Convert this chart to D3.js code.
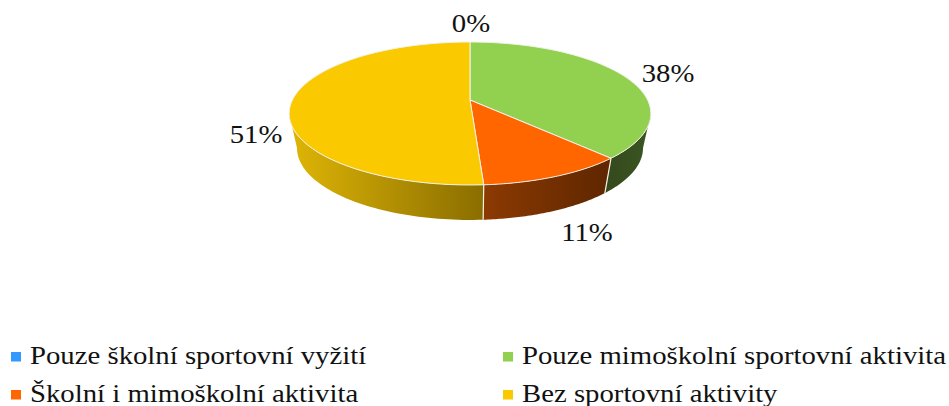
<!DOCTYPE html>
<html>
<head>
<meta charset="utf-8">
<script src="https://cdn.jsdelivr.net/npm/d3@7"></script>
<style>
  html, body { margin: 0; padding: 0; background: #fff; }
  text { font-family: "Liberation Serif", serif; fill: #111; }
</style>
</head>
<body>
<div id="chart"></div>
<script>
var categories = ['Pouze školní sportovní vyžití', 'Pouze mimoškolní sportovní aktivita', 'Školní i mimoškolní aktivita', 'Bez sportovní aktivity'];
var values = [0, 38, 11, 51];
var labels = ['0%', '38%', '11%', '51%'];
var colors = ['#3399ff', '#92d050', '#ff6600', '#fbc900'];

var width = 949,
  height = 406;

var svg = d3.select('#chart')
  .append('svg')
  .attr('width', width)
  .attr('height', height)
  .style('display', 'block');

// perspective of the tilted disc: k pulls the near edge down and makes it wider
var k = 0.1888;
var topFace = { x: 470, y: 100, rx: 177.6, ry: 68.95 };
var bottomFace = { x: 470, y: 134.4, rx: 169.9, ry: 69.4 };

function project(face, a) {
  var u = Math.sin(a), v = -Math.cos(a), w = 1 - k * v;
  return [face.x + face.rx * u / w, face.y + face.ry * v / w];
}

function sample(face, a0, a1) {
  return d3.range(0, 61).map(function (i) {
    return project(face, a0 + (a1 - a0) * i / 60);
  });
}

var pie = d3.pie().sort(null).startAngle(0).endAngle(2 * Math.PI);
var arcs = pie(values);
var line = d3.line();

// the wall of the disc is visible only between the two tangent points
var wallStart = Math.acos(-k),
  wallEnd = 2 * Math.PI - wallStart;

// gradient stops run left to right on screen
var wallStops = [
  ['#3c5621', '#364d1e'],
  ['#354a1d', '#3c5621'],
  ['#8c3a02', '#5e2600'],
  ['#dfb606', '#8a6d00']
];

var defs = svg.append('defs');

arcs.forEach(function (d, i) {
  var a0 = Math.max(d.startAngle, wallStart),
    a1 = Math.min(d.endAngle, wallEnd);
  if (a1 <= a0) return;
  var upper = sample(topFace, a0, a1),
    lower = sample(bottomFace, a0, a1);
  var pts = upper.concat(lower.slice().reverse());

  var xs = d3.extent(upper, function (p) { return p[0]; });
  var grad = defs.append('linearGradient')
    .attr('id', 'wall' + i)
    .attr('gradientUnits', 'userSpaceOnUse')
    .attr('x1', xs[0]).attr('x2', xs[1])
    .attr('y1', 0).attr('y2', 0);
  grad.append('stop').attr('offset', 0).attr('stop-color', wallStops[i][0]);
  grad.append('stop').attr('offset', 1).attr('stop-color', wallStops[i][1]);

  svg.append('path')
    .attr('d', line(pts) + 'Z')
    .attr('fill', 'url(#wall' + i + ')')
    .attr('stroke', 'none');

  // light seam where two wall pieces meet
  if (d.startAngle > wallStart) {
    svg.append('path')
      .attr('d', line([project(topFace, a0), project(bottomFace, a0)]))
      .attr('stroke', '#f4f1e6')
      .attr('stroke-width', 1.2)
      .attr('fill', 'none');
  }
});

// top of the disc
arcs.forEach(function (d, i) {
  if (d.endAngle <= d.startAngle) return;
  var pts = [[topFace.x, topFace.y]].concat(sample(topFace, d.startAngle, d.endAngle));
  svg.append('path')
    .attr('d', line(pts) + 'Z')
    .attr('fill', colors[i])
    .attr('stroke', '#f2f2ea')
    .attr('stroke-width', 1)
    .attr('stroke-linejoin', 'round');
});

// data labels
var labelPos = [[471, 32], [668, 82], [587, 241], [256, 143]];

labels.forEach(function (t, i) {
  svg.append('text')
    .attr('transform', 'translate(' + labelPos[i][0] + ',' + labelPos[i][1] + ') scale(1.15,1)')
    .attr('text-anchor', 'middle')
    .style('font-size', '25px')
    .text(t);
});

// legend
var legendPos = [[11, 363.5], [503, 363.5], [11, 401.5], [503, 401.5]];

var legend = svg.selectAll('.legend')
  .data(categories)
  .enter()
  .append('g')
  .attr('class', 'legend')
  .attr('transform', function (d, i) {
    return 'translate(' + legendPos[i][0] + ',' + legendPos[i][1] + ')';
  });

legend.append('rect')
  .attr('x', 0)
  .attr('y', -11.5)
  .attr('width', 10)
  .attr('height', 9.5)
  .attr('fill', function (d, i) { return colors[i]; });

legend.append('text')
  .attr('transform', 'translate(19,0) scale(1.15,1)')
  .style('font-size', '25px')
  .text(function (d) { return d; });
</script>
</body>
</html>
